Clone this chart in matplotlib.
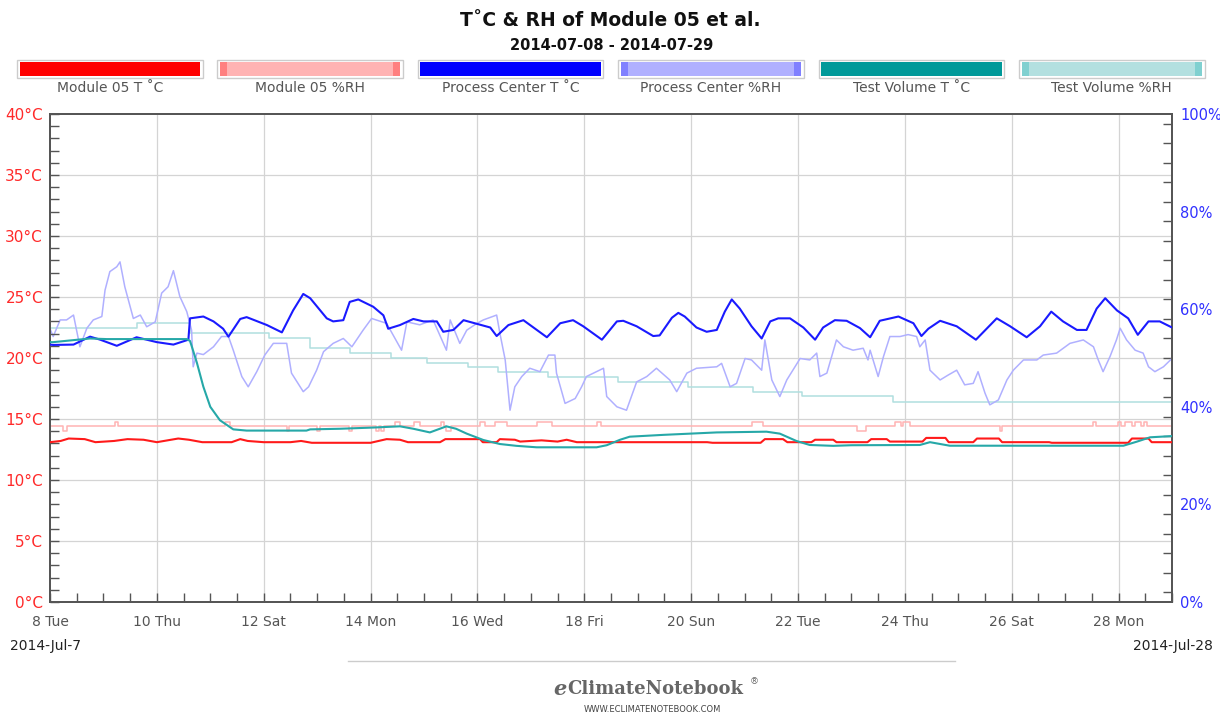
import matplotlib
matplotlib.use("Agg")
import matplotlib.pyplot as plt
from matplotlib.patches import Rectangle
from matplotlib.lines import Line2D
import numpy as np

# ---------------- data (x in days since 2014-07-08 00:00) ----------------
title = "T˚C & RH of Module 05 et al."
subtitle = "2014-07-08 - 2014-07-29"
series_names = ["Module 05 T ˚C", "Module 05 %RH", "Process Center T ˚C",
                "Process Center %RH", "Test Volume T ˚C", "Test Volume %RH"]

day_ticks = [0, 2, 4, 6, 8, 10, 12, 14, 16, 18, 20]
day_labels = ["8 Tue", "10 Thu", "12 Sat", "14 Mon", "16 Wed", "18 Fri",
              "20 Sun", "22 Tue", "24 Thu", "26 Sat", "28 Mon"]
temp_ticks = [0, 5, 10, 15, 20, 25, 30, 35, 40]
rh_ticks = [0, 20, 40, 60, 80, 100]
start_label = "2014-Jul-7"
end_label = "2014-Jul-28"

pc_t_days = [0.0, 0.06, 0.44, 0.75, 0.94, 1.25, 1.62, 2.0, 2.31, 2.59, 2.62, 2.87, 3.06, 3.24,
             3.34, 3.56, 3.68, 4.06, 4.34, 4.55, 4.74, 4.87, 5.18, 5.30, 5.49, 5.61, 5.77,
             6.05, 6.24, 6.33, 6.55, 6.80, 6.99, 7.24, 7.36, 7.55, 7.74, 7.99, 8.24, 8.36,
             8.58, 8.86, 9.30, 9.55, 9.79, 9.98, 10.33, 10.61, 10.73, 10.98, 11.29, 11.41,
             11.64, 11.76, 11.88, 12.10, 12.29, 12.48, 12.63, 12.76, 12.91, 13.13, 13.32,
             13.48, 13.63, 13.85, 14.10, 14.32, 14.47, 14.69, 14.91, 15.16, 15.35, 15.53,
             15.88, 16.16, 16.31, 16.44, 16.66, 16.97, 17.33, 17.72, 17.97, 18.28, 18.53,
             18.74, 18.96, 19.22, 19.40, 19.59, 19.75, 19.97, 20.18, 20.36, 20.56, 20.77, 21.0]
pc_t_vals = [21.1, 21.07, 21.1, 21.75, 21.5, 21.0, 21.7, 21.3, 21.1, 21.5, 23.25, 23.4, 23.0, 22.4,
             21.75, 23.2, 23.35, 22.7, 22.1, 23.9, 25.25, 24.9, 23.25, 23.0, 23.1, 24.6, 24.8,
             24.2, 23.5, 22.4, 22.7, 23.2, 23.0, 23.0, 22.15, 22.3, 23.1, 22.8, 22.5, 21.8,
             22.7, 23.1, 21.7, 22.85, 23.1, 22.6, 21.5, 23.0, 23.05, 22.6, 21.8, 21.85,
             23.3, 23.7, 23.4, 22.5, 22.15, 22.3, 23.8, 24.8, 24.05, 22.6, 21.6,
             23.0, 23.25, 23.25, 22.5, 21.5, 22.5, 23.1, 23.05, 22.45, 21.7, 23.05,
             23.4, 22.85, 21.8, 22.4, 23.05, 22.6, 21.5, 23.25, 22.6, 21.7, 22.6,
             23.8, 23.0, 22.3, 22.3, 24.05, 24.9, 23.9, 23.25, 21.9, 23.0, 23.0, 22.5]

pc_rh_days = [0.0, 0.06, 0.19, 0.31, 0.44, 0.56, 0.69, 0.81, 0.97, 1.03, 1.12, 1.25, 1.31, 1.40,
              1.56, 1.69, 1.81, 1.97, 2.09, 2.21, 2.31, 2.43, 2.56, 2.65, 2.68, 2.75, 2.87,
              3.06, 3.21, 3.34, 3.43, 3.59, 3.71, 3.87, 4.02, 4.18, 4.43, 4.52, 4.74, 4.84,
              4.99, 5.12, 5.30, 5.49, 5.65, 5.86, 6.02, 6.30, 6.58, 6.68, 6.92, 7.17, 7.42,
              7.49, 7.67, 7.80, 7.99, 8.11, 8.36, 8.42, 8.52, 8.61, 8.70, 8.83, 8.98, 9.17,
              9.33, 9.45, 9.48, 9.64, 9.83, 9.95, 10.04, 10.36, 10.42, 10.61, 10.79, 10.98,
              11.17, 11.35, 11.60, 11.73, 11.92, 12.10, 12.48, 12.57, 12.73, 12.85, 13.01,
              13.13, 13.32, 13.38, 13.51, 13.66, 13.79, 14.04, 14.22, 14.35, 14.41, 14.54,
              14.72, 14.85, 15.03, 15.22, 15.31, 15.35, 15.50, 15.60, 15.72, 15.91, 16.06,
              16.22, 16.28, 16.38, 16.47, 16.66, 16.81, 16.97, 17.12, 17.28, 17.37, 17.50,
              17.59, 17.75, 17.91, 18.03, 18.22, 18.47, 18.59, 18.84, 19.09, 19.34, 19.53,
              19.62, 19.71, 19.84, 19.96, 20.03, 20.15, 20.31, 20.46, 20.56, 20.68, 20.84, 21.0]
pc_rh_vals = [56.0, 54.4, 57.8, 57.8, 58.8, 52.3, 56.1, 57.8, 58.5, 63.9, 67.7, 68.7, 69.7, 64.6,
              58.1, 58.8, 56.4, 57.4, 63.3, 64.6, 67.9, 62.6, 59.5, 55.7, 48.2, 51.0, 50.7,
              52.3, 54.4, 54.4, 51.6, 46.2, 44.1, 47.2, 50.6, 53.0, 53.0, 46.9, 43.1, 44.1,
              47.5, 51.3, 53.0, 54.0, 52.3, 55.7, 58.1, 57.1, 51.6, 57.4, 56.8, 57.8, 51.6,
              57.8, 53.0, 55.7, 57.1, 57.8, 58.8, 55.1, 49.6, 39.3, 44.1, 46.2, 47.9, 47.2,
              50.6, 50.6, 46.9, 40.7, 41.7, 44.1, 46.2, 47.9, 42.1, 40.0, 39.3, 45.1,
              46.2, 47.9, 45.5, 43.1, 46.9, 47.9, 48.2, 48.9, 44.1, 44.8, 49.9,
              49.6, 47.5, 53.7, 45.5, 42.1, 45.5, 49.9, 49.6, 51.0, 46.2, 46.9,
              53.7, 52.3, 51.6, 52.0, 49.6, 51.6, 46.2, 50.3, 54.4, 54.4, 54.8,
              54.4, 52.3, 53.7, 47.5, 45.5, 46.5, 47.5, 44.5, 44.8, 47.2, 42.8,
              40.4, 41.4, 45.5, 47.5, 49.6, 49.6, 50.6, 51.0, 53.0, 53.7, 52.3,
              49.6, 47.2, 50.3, 53.7, 56.1, 53.7, 51.6, 51.0, 48.2, 47.2, 48.2, 49.9]

tv_rh_days = [0.0, 1.62, 2.62, 4.09, 4.87, 5.61, 6.39, 7.05, 7.83, 8.39, 9.33, 10.64, 11.95,
              13.16, 14.07, 15.78, 21.0]
tv_rh_vals = [56.1, 57.2, 55.1, 54.0, 52.0, 51.1, 50.1, 49.0, 48.1, 47.1, 46.2, 45.1, 44.1,
              43.1, 42.2, 41.0, 41.0]

m05_rh_days = [0.0, 0.25, 0.31, 1.22, 1.28, 3.28, 3.37, 4.43, 4.47, 5.0, 5.05, 5.6, 5.65, 6.1,
               6.15, 6.2, 6.25, 6.45, 6.55, 6.82, 6.92, 7.32, 7.38, 7.42, 7.5, 8.05, 8.14, 8.33,
               8.55, 9.11, 9.39, 10.23, 10.31, 13.13, 13.35, 15.10, 15.28, 15.81, 15.92, 15.97,
               16.10, 17.78, 17.82, 19.53, 19.57, 19.99, 20.05, 20.12, 20.25, 20.3, 20.42,
               20.47, 20.53, 21.0]
m05_rh_vals = [36.1, 35.1, 36.1, 36.9, 36.1, 36.9, 36.1, 35.1, 36.1, 35.1, 36.1, 35.1, 36.1, 35.1,
               36.1, 35.1, 36.1, 36.9, 36.1, 36.9, 36.1, 36.9, 36.1, 35.1, 36.1, 36.9, 36.1, 36.9,
               36.1, 36.9, 36.1, 36.9, 36.1, 36.9, 36.1, 35.1, 36.1, 36.9, 36.1, 36.9,
               36.1, 35.1, 36.1, 36.9, 36.1, 36.9, 36.1, 36.9, 36.1, 36.9, 36.1,
               36.9, 36.1, 36.1]

m05_t_days = [0.0, 0.2, 0.35, 0.65, 0.85, 1.2, 1.45, 1.75, 2.0, 2.4, 2.6, 2.85, 3.4, 3.56, 3.7,
              4.0, 4.5, 4.7, 4.9, 6.0, 6.3, 6.55, 6.7, 7.3, 7.4, 8.05, 8.1, 8.36, 8.42, 8.7,
              8.8, 9.2, 9.5, 9.67, 9.86, 12.3, 12.4, 13.3, 13.38, 13.72, 13.8, 14.25, 14.32,
              14.66, 14.72, 15.3, 15.37, 15.66, 15.72, 16.33, 16.4, 16.76, 16.82, 17.28,
              17.35, 17.76, 17.82, 18.7, 18.75, 20.18, 20.25, 20.56, 20.62, 21.0]
m05_t_vals = [13.1, 13.2, 13.4, 13.35, 13.1, 13.2, 13.35, 13.3, 13.1, 13.4, 13.3, 13.1, 13.1, 13.35,
              13.2, 13.1, 13.1, 13.2, 13.05, 13.05, 13.35, 13.3, 13.1, 13.1, 13.35, 13.35, 13.1,
              13.1, 13.35, 13.3, 13.15, 13.25, 13.15, 13.3, 13.1, 13.1, 13.05, 13.05, 13.35,
              13.35, 13.1, 13.1, 13.3, 13.3, 13.1, 13.1, 13.35, 13.35, 13.15, 13.15, 13.45,
              13.45, 13.1, 13.1, 13.4, 13.4, 13.1, 13.1, 13.05, 13.05, 13.4, 13.4, 13.1, 13.1]

tv_t_days = [0.0, 0.06, 0.75, 1.06, 2.56, 2.62, 2.65, 2.75, 2.87, 3.0, 3.18, 3.43, 3.68, 4.8,
             4.87, 5.43, 6.05, 6.55, 6.8, 7.11, 7.42, 7.6, 7.80, 8.11, 8.42, 8.73, 9.11,
             10.23, 10.42, 10.67, 10.85, 11.48, 12.48, 13.41, 13.66, 13.97, 14.22, 14.66,
             15.0, 16.28, 16.47, 16.84, 20.09, 20.34, 20.59, 21.0]
tv_t_vals = [21.3, 21.3, 21.6, 21.55, 21.55, 21.4, 21.0, 19.6, 17.65, 16.0, 14.9, 14.15, 14.05,
             14.05, 14.15, 14.2, 14.3, 14.4, 14.2, 13.9, 14.4, 14.2, 13.8, 13.28, 12.95, 12.8,
             12.68, 12.68, 12.85, 13.3, 13.55, 13.7, 13.9, 13.96, 13.8, 13.2, 12.87, 12.8,
             12.85, 12.87, 13.1, 12.81, 12.81, 13.14, 13.5, 13.6]

# ---------------- styling ----------------
W, H = 1220, 716
FONT = "DejaVu Sans"
plt.rcParams["font.family"] = [FONT]

c_red = "#ff1a1a"
c_red_rh = "#ffb3b3"
c_blue = "#1a1aff"
c_blue_rh = "#b0b0ff"
c_teal = "#26a8a8"
c_teal_rh = "#b0dfdf"
spine_c = "#555555"
grid_c = "#d4d4d4"

fig = plt.figure(figsize=(W / 100, H / 100), dpi=100)
fig.patch.set_facecolor("white")

def fx(px):
    return px / W

def fy(py):
    return 1 - py / H

ax = fig.add_axes([fx(50), fy(602), fx(1172) - fx(50), fy(114) - fy(602)])
ax2 = ax.twinx()

ax.set_xlim(0, 21)
ax.set_ylim(0, 40)
ax2.set_ylim(0, 100)

# grid
for d in day_ticks[1:]:
    ax2.axvline(d, color=grid_c, lw=0.9, zorder=0)
for t in temp_ticks[1:-1]:
    ax2.axhline(t * 2.5, color=grid_c, lw=0.9, zorder=0)

# RH series (right axis)
ax2.step(tv_rh_days, tv_rh_vals, where="post", color=c_teal_rh, lw=1.1, zorder=2)
ax2.step(m05_rh_days, m05_rh_vals, where="post", color=c_red_rh, lw=1.1, zorder=2)
ax2.plot(pc_rh_days, pc_rh_vals, color=c_blue_rh, lw=1.1, zorder=2)

# T series on the left axis, drawn above the RH series
ax.set_zorder(ax2.get_zorder() + 1)
ax.patch.set_visible(False)
ax.plot(m05_t_days, m05_t_vals, color=c_red, lw=1.5, zorder=3)
ax.plot(pc_t_days, pc_t_vals, color=c_blue, lw=1.5, zorder=3)
ax.plot(tv_t_days, tv_t_vals, color=c_teal, lw=1.5, zorder=3)

# ticks
ax.set_xticks(day_ticks)
ax.set_xticklabels(day_labels)
ax.set_xticks(np.arange(0, 21.01, 0.5), minor=True)
ax.set_yticks(temp_ticks)
ax.set_yticklabels([f"{t}°C" for t in temp_ticks])
ax.set_yticks(np.arange(0, 40.01, 1), minor=True)
ax2.set_yticks(rh_ticks)
ax2.set_yticklabels([f"{r}%" for r in rh_ticks])
ax2.set_yticks(np.arange(2, 100, 4), minor=True)

ax.tick_params(axis="x", which="both", direction="in", length=6.5, width=1.0, color=spine_c,
               pad=9, labelsize=10, labelcolor="#555555", top=False)
ax.tick_params(axis="y", which="both", direction="in", length=6.5, width=1.0, color=spine_c,
               pad=5, labelsize=11, labelcolor="#ff2a2a", right=False)
ax2.tick_params(axis="y", which="major", direction="in", length=0, pad=6, labelsize=10.5,
                labelcolor="#3030ff")
ax2.tick_params(axis="y", which="minor", direction="in", length=6.5, width=1.0, color=spine_c)

for a in (ax, ax2):
    for s in a.spines.values():
        s.set_color(spine_c)
        s.set_linewidth(1.3)

# ---------------- titles ----------------
fig.text(fx(610), fy(21), title, ha="center", va="center", fontsize=13.5,
         fontweight="bold", color="#111111")
fig.text(fx(612), fy(45), subtitle, ha="center", va="center", fontsize=10.5,
         fontweight="bold", color="#111111")

# ---------------- legend ----------------
rh_caps = {1: "#ff8080", 3: "#8080ff", 5: "#80d0d0"}
leg_colors = ["#ff0000", "#ffb3b3", "#0000ff", "#b0b0ff", "#009999", "#b3e0e0"]
for i, name in enumerate(series_names):
    x0 = 17 + i * 200.4
    box = Rectangle((fx(x0), fy(78)), fx(185.5), fy(60) - fy(78), transform=fig.transFigure,
                    facecolor="white", edgecolor="#cccccc", lw=1.0)
    fig.add_artist(box)
    bar = Rectangle((fx(x0 + 2.5), fy(75.7)), fx(180.5), fy(62.3) - fy(75.7),
                    transform=fig.transFigure, facecolor=leg_colors[i], edgecolor="none")
    fig.add_artist(bar)
    if i in rh_caps:
        for cx in (x0 + 2.5, x0 + 176):
            cap = Rectangle((fx(cx), fy(75.7)), fx(7), fy(62.3) - fy(75.7),
                            transform=fig.transFigure, facecolor=rh_caps[i], edgecolor="none")
            fig.add_artist(cap)
    fig.text(fx(x0 + 92.7), fy(88.5), name, ha="center", va="center", fontsize=10,
             color="#555555")

# ---------------- corner dates & footer ----------------
fig.text(fx(10), fy(646), start_label, ha="left", va="center", fontsize=10, color="#222222")
fig.text(fx(1213), fy(646), end_label, ha="right", va="center", fontsize=10, color="#222222")

fig.add_artist(Line2D([fx(348), fx(955)], [fy(661), fy(661)], transform=fig.transFigure,
                      color="#cccccc", lw=1.0))
fig.text(fx(553), fy(689), "e", ha="left", va="center", fontsize=15, style="italic",
         fontweight="bold", family="DejaVu Serif", color="#666666")
fig.text(fx(567), fy(689), "ClimateNotebook", ha="left", va="center", fontsize=13,
         fontweight="bold", family="DejaVu Serif", color="#666666")
fig.text(fx(750), fy(682), "®", ha="left", va="center", fontsize=6.5, color="#666666")
fig.text(fx(652), fy(709), "WWW.ECLIMATENOTEBOOK.COM", ha="center", va="center", fontsize=6,
         color="#444444")

fig.savefig("out.png", dpi=100, facecolor="white")
